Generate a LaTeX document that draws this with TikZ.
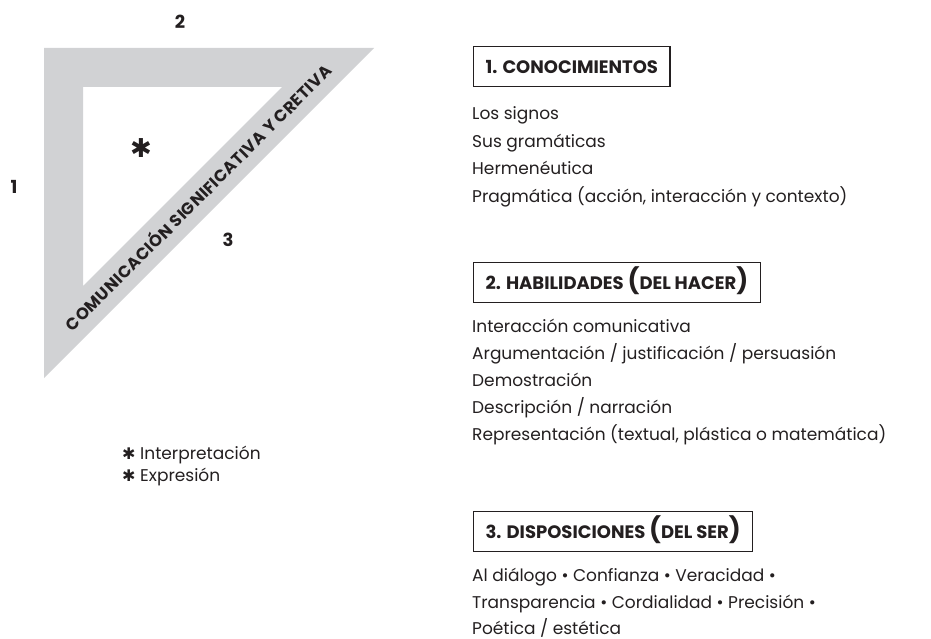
\documentclass[tikz,border=0pt]{standalone}
\usepackage{fontspec}
\setmainfont{Poppins}
\newfontfamily\symfont{DejaVu Sans}
\newfontfamily\hypfont[LetterSpace=3]{Poppins}
\definecolor{bandgray}{HTML}{D1D2D4}
\definecolor{inkc}{HTML}{231F20}
\newcommand{\bigpar}[1]{{\fontsize{25}{18}\selectfont#1}}
\begin{document}
\begin{tikzpicture}[x=1pt,y=-1pt,
  headbox/.style={draw=inkc,line width=1.2pt,anchor=north west,minimum height=40pt,inner xsep=12pt,text height=13pt,text depth=0pt,font=\fontsize{18}{18}\selectfont\bfseries,text=inkc},
  bodyline/.style={anchor=base west,inner sep=0pt,font=\fontsize{17}{17}\selectfont,text=inkc},
  numlabel/.style={font=\fontsize{18}{18}\selectfont\bfseries,text=inkc,inner sep=0pt},
  band/.style={fill=bandgray,even odd rule}]
\useasboundingbox (0,0) rectangle (931,639);
% triangle band
\path[band] (44,48) -- (374,48) -- (44,378) -- cycle
            (83,87) -- (282,87) -- (83,286) -- cycle;
\node[rotate=45,inner sep=0pt,text height=11.5pt,text depth=0pt,font=\hypfont\fontsize{16.5}{16.5}\selectfont\bfseries,text=inkc] (hyp) at (199,198) {COMUNICACIÓN SIGNIFICATIVA Y CRETIVA};
\node[numlabel] (n2) at (180,22) {2};
\node[numlabel] (n1) at (14,187) {1};
\node[numlabel] (n3) at (228,240) {3};
\node[inner sep=0pt,font=\symfont\fontsize{26}{26}\selectfont,text=inkc] (star) at (141,148) {✱};
% legend
\node[bodyline,font=\symfont\fontsize{16}{16}\selectfont] (ls1) at (122,459) {✱};
\node[bodyline] (li1) at (140,459) {Interpretación};
\node[bodyline,font=\symfont\fontsize{16}{16}\selectfont] (ls2) at (122,481) {✱};
\node[bodyline] (li2) at (140,481) {Expresión};
% group 1
\node[headbox] (h1) at (473,46) {1. CONOCIMIENTOS};
\node[bodyline] (a1) at (472,120) {Los signos};
\node[bodyline] (a2) at (472,148) {Sus gramáticas};
\node[bodyline] (a3) at (472,175) {Hermenéutica};
\node[bodyline] (a4) at (472,202) {Pragmática (acción, interacción y contexto)};
% group 2
\node[headbox] (h2) at (473,262) {2. HABILIDADES \bigpar{(}DEL HACER\bigpar{)}};
\node[bodyline] (b1) at (472,332) {Interacción comunicativa};
\node[bodyline] (b2) at (472,359) {Argumentación / justificación / persuasión};
\node[bodyline] (b3) at (472,386) {Demostración};
\node[bodyline] (b4) at (472,413) {Descripción / narración};
\node[bodyline] (b5) at (472,440) {Representación (textual, plástica o matemática)};
% group 3
\node[headbox] (h3) at (473,511) {3. DISPOSICIONES \bigpar{(}DEL SER\bigpar{)}};
\node[bodyline] (c1) at (472,581) {Al diálogo • Confianza • Veracidad •};
\node[bodyline] (c2) at (472,608) {Transparencia • Cordialidad • Precisión •};
\node[bodyline] (c3) at (472,634) {Poética / estética};
\end{tikzpicture}
\end{document}
